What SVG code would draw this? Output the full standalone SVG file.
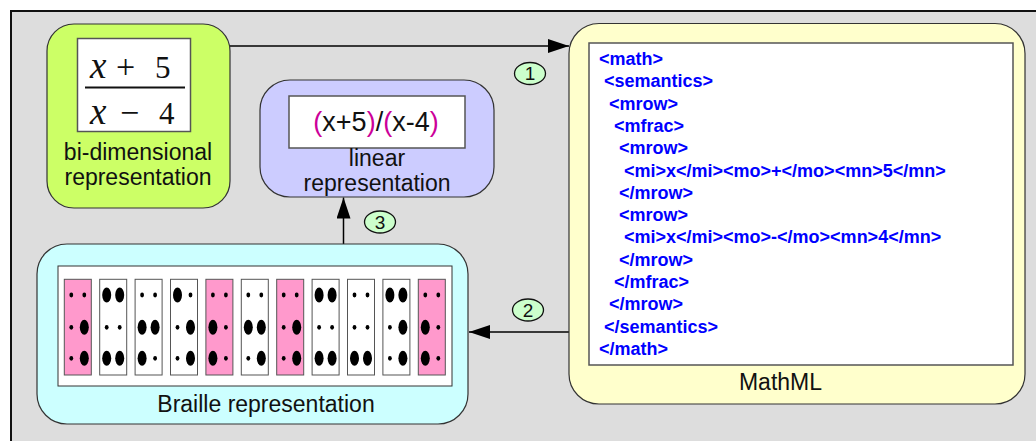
<svg xmlns="http://www.w3.org/2000/svg" xmlns:xlink="http://www.w3.org/1999/xlink" width="1036" height="441" viewBox="0 0 1036 441">
<style>
.node{stroke:#333;stroke-width:1.2}
.wbox{fill:#fff;stroke:#555;stroke-width:1.5}
.lbl{font-family:"Liberation Sans",Arial,sans-serif;font-size:23px;fill:#111;text-anchor:middle}
.ml{font-family:"Liberation Sans",Arial,sans-serif;font-size:18px;font-weight:bold;fill:#0000ff}
.serif{font-family:"Liberation Serif","Times New Roman",serif;fill:#111}
.cell{fill:#fff;stroke:#555;stroke-width:1}
.pink{fill:#ff99cc}
.conn{stroke:#000;stroke-width:1.5;fill:none}
.step{fill:#ccffcc;stroke:#111;stroke-width:1.3}
.stept{font-family:"Liberation Sans",Arial,sans-serif;fill:#111;text-anchor:middle}
.mag{fill:#cc0099}
.b{fill:#000}
.s{fill:#000}
</style>
<defs>
<marker id="ah" markerUnits="userSpaceOnUse" markerWidth="22" markerHeight="14" refX="21" refY="7" orient="auto">
<path d="M0,0 L21,7 L0,14 z" fill="#000"/>
</marker>
</defs>

<rect x="11" y="11" width="1040" height="440" fill="#dddddd" stroke="#111" stroke-width="2"/>

<g id="connectors">
<line class="conn" x1="230" y1="46" x2="569" y2="46" marker-end="url(#ah)"/>
<line class="conn" x1="569" y1="332" x2="469" y2="332" marker-end="url(#ah)"/>
<line class="conn" x1="343.5" y1="244" x2="343.5" y2="197.5" marker-end="url(#ah)"/>
<ellipse class="step" cx="530" cy="73.5" rx="15.5" ry="11"/>
<text class="stept" x="530" y="80" font-size="19">1</text>
<ellipse class="step" cx="528" cy="310" rx="15.5" ry="11"/>
<text class="stept" x="528" y="316.5" font-size="19">2</text>
<ellipse class="step" cx="380" cy="222" rx="15.5" ry="11"/>
<text class="stept" x="380" y="228.5" font-size="19">3</text>
</g>

<g id="bidim">
<rect class="node" x="47" y="24" width="183" height="184" rx="27" fill="#ccff66"/>
<rect class="wbox" x="77.5" y="38.5" width="113" height="93"/>
<text class="serif" x="90" y="77.5" font-size="37" font-style="italic">x</text>
<text class="serif" x="116" y="77.5" font-size="34">+</text>
<text class="serif" x="155" y="78" font-size="31">5</text>
<line x1="85" y1="87.5" x2="185" y2="87.5" stroke="#111" stroke-width="2"/>
<text class="serif" x="90" y="123.5" font-size="37" font-style="italic">x</text>
<text class="serif" x="120" y="123.5" font-size="34">−</text>
<text class="serif" x="159" y="124" font-size="31">4</text>
<text class="lbl" x="138" y="160">bi-dimensional</text>
<text class="lbl" x="138" y="185">representation</text>
</g>

<g id="linear">
<rect class="node" x="260" y="80" width="234" height="117" rx="30" fill="#ccccff"/>
<rect class="wbox" x="289" y="96" width="176" height="52"/>
<text x="376" y="131" font-family="'Liberation Sans',Arial,sans-serif" font-size="27" fill="#111" text-anchor="middle"><tspan class="mag">(</tspan>x+5<tspan class="mag">)</tspan>/<tspan class="mag">(</tspan>x-4<tspan class="mag">)</tspan></text>
<text class="lbl" x="377" y="166">linear</text>
<text class="lbl" x="377" y="191">representation</text>
</g>

<g id="mathml">
<rect class="node" x="569" y="23.5" width="456" height="380.5" rx="30" fill="#ffffcc"/>
<rect class="wbox" x="589" y="43" width="424" height="322"/>
<text class="ml" x="599" y="65">&lt;math&gt;</text>
<text class="ml" x="604" y="87.3">&lt;semantics&gt;</text>
<text class="ml" x="609" y="109.6">&lt;mrow&gt;</text>
<text class="ml" x="614" y="131.9">&lt;mfrac&gt;</text>
<text class="ml" x="619" y="154.2">&lt;mrow&gt;</text>
<text class="ml" x="624" y="176.5">&lt;mi&gt;x&lt;/mi&gt;&lt;mo&gt;+&lt;/mo&gt;&lt;mn&gt;5&lt;/mn&gt;</text>
<text class="ml" x="619" y="198.8">&lt;/mrow&gt;</text>
<text class="ml" x="619" y="221.1">&lt;mrow&gt;</text>
<text class="ml" x="624" y="243.4">&lt;mi&gt;x&lt;/mi&gt;&lt;mo&gt;-&lt;/mo&gt;&lt;mn&gt;4&lt;/mn&gt;</text>
<text class="ml" x="619" y="265.7">&lt;/mrow&gt;</text>
<text class="ml" x="614" y="288">&lt;/mfrac&gt;</text>
<text class="ml" x="609" y="310.3">&lt;/mrow&gt;</text>
<text class="ml" x="604" y="332.6">&lt;/semantics&gt;</text>
<text class="ml" x="599" y="354.9">&lt;/math&gt;</text>
<text class="lbl" x="780.5" y="390">MathML</text>
</g>

<g id="braille">
<rect class="node" x="37" y="244" width="431" height="180" rx="30" fill="#ccffff"/>
<rect x="58" y="266" width="394" height="120" fill="#fff" stroke="#333" stroke-width="1"/>
<g transform="translate(64.3,279.3)"><rect class="cell pink" width="27" height="95.7"/>
<ellipse class="s" cx="7" cy="15.7" rx="1.9" ry="2.4"/><ellipse class="s" cx="20" cy="15.7" rx="1.9" ry="2.4"/><ellipse class="s" cx="7" cy="48" rx="1.9" ry="2.4"/><ellipse class="b" cx="20" cy="48" rx="4.5" ry="7.5"/><ellipse class="s" cx="7" cy="79" rx="1.9" ry="2.4"/><ellipse class="b" cx="20" cy="79" rx="4.5" ry="7.5"/></g>
<g transform="translate(99.7,279.3)"><rect class="cell" width="27" height="95.7"/>
<ellipse class="b" cx="7" cy="15.7" rx="4.5" ry="7.5"/><ellipse class="b" cx="20" cy="15.7" rx="4.5" ry="7.5"/><ellipse class="s" cx="7" cy="48" rx="1.9" ry="2.4"/><ellipse class="s" cx="20" cy="48" rx="1.9" ry="2.4"/><ellipse class="b" cx="7" cy="79" rx="4.5" ry="7.5"/><ellipse class="b" cx="20" cy="79" rx="4.5" ry="7.5"/></g>
<g transform="translate(135.1,279.3)"><rect class="cell" width="27" height="95.7"/>
<ellipse class="s" cx="7" cy="15.7" rx="1.9" ry="2.4"/><ellipse class="s" cx="20" cy="15.7" rx="1.9" ry="2.4"/><ellipse class="b" cx="7" cy="48" rx="4.5" ry="7.5"/><ellipse class="b" cx="20" cy="48" rx="4.5" ry="7.5"/><ellipse class="b" cx="7" cy="79" rx="4.5" ry="7.5"/><ellipse class="s" cx="20" cy="79" rx="1.9" ry="2.4"/></g>
<g transform="translate(170.5,279.3)"><rect class="cell" width="27" height="95.7"/>
<ellipse class="b" cx="7" cy="15.7" rx="4.5" ry="7.5"/><ellipse class="s" cx="20" cy="15.7" rx="1.9" ry="2.4"/><ellipse class="s" cx="7" cy="48" rx="1.9" ry="2.4"/><ellipse class="b" cx="20" cy="48" rx="4.5" ry="7.5"/><ellipse class="s" cx="7" cy="79" rx="1.9" ry="2.4"/><ellipse class="b" cx="20" cy="79" rx="4.5" ry="7.5"/></g>
<g transform="translate(205.9,279.3)"><rect class="cell pink" width="27" height="95.7"/>
<ellipse class="s" cx="7" cy="15.7" rx="1.9" ry="2.4"/><ellipse class="s" cx="20" cy="15.7" rx="1.9" ry="2.4"/><ellipse class="b" cx="7" cy="48" rx="4.5" ry="7.5"/><ellipse class="s" cx="20" cy="48" rx="1.9" ry="2.4"/><ellipse class="b" cx="7" cy="79" rx="4.5" ry="7.5"/><ellipse class="s" cx="20" cy="79" rx="1.9" ry="2.4"/></g>
<g transform="translate(241.3,279.3)"><rect class="cell" width="27" height="95.7"/>
<ellipse class="s" cx="7" cy="15.7" rx="1.9" ry="2.4"/><ellipse class="s" cx="20" cy="15.7" rx="1.9" ry="2.4"/><ellipse class="b" cx="7" cy="48" rx="4.5" ry="7.5"/><ellipse class="b" cx="20" cy="48" rx="4.5" ry="7.5"/><ellipse class="s" cx="7" cy="79" rx="1.9" ry="2.4"/><ellipse class="b" cx="20" cy="79" rx="4.5" ry="7.5"/></g>
<g transform="translate(276.7,279.3)"><rect class="cell pink" width="27" height="95.7"/>
<ellipse class="s" cx="7" cy="15.7" rx="1.9" ry="2.4"/><ellipse class="s" cx="20" cy="15.7" rx="1.9" ry="2.4"/><ellipse class="s" cx="7" cy="48" rx="1.9" ry="2.4"/><ellipse class="b" cx="20" cy="48" rx="4.5" ry="7.5"/><ellipse class="s" cx="7" cy="79" rx="1.9" ry="2.4"/><ellipse class="b" cx="20" cy="79" rx="4.5" ry="7.5"/></g>
<g transform="translate(312.1,279.3)"><rect class="cell" width="27" height="95.7"/>
<ellipse class="b" cx="7" cy="15.7" rx="4.5" ry="7.5"/><ellipse class="b" cx="20" cy="15.7" rx="4.5" ry="7.5"/><ellipse class="s" cx="7" cy="48" rx="1.9" ry="2.4"/><ellipse class="s" cx="20" cy="48" rx="1.9" ry="2.4"/><ellipse class="b" cx="7" cy="79" rx="4.5" ry="7.5"/><ellipse class="b" cx="20" cy="79" rx="4.5" ry="7.5"/></g>
<g transform="translate(347.5,279.3)"><rect class="cell" width="27" height="95.7"/>
<ellipse class="s" cx="7" cy="15.7" rx="1.9" ry="2.4"/><ellipse class="s" cx="20" cy="15.7" rx="1.9" ry="2.4"/><ellipse class="s" cx="7" cy="48" rx="1.9" ry="2.4"/><ellipse class="s" cx="20" cy="48" rx="1.9" ry="2.4"/><ellipse class="b" cx="7" cy="79" rx="4.5" ry="7.5"/><ellipse class="b" cx="20" cy="79" rx="4.5" ry="7.5"/></g>
<g transform="translate(382.9,279.3)"><rect class="cell" width="27" height="95.7"/>
<ellipse class="b" cx="7" cy="15.7" rx="4.5" ry="7.5"/><ellipse class="b" cx="20" cy="15.7" rx="4.5" ry="7.5"/><ellipse class="s" cx="7" cy="48" rx="1.9" ry="2.4"/><ellipse class="b" cx="20" cy="48" rx="4.5" ry="7.5"/><ellipse class="s" cx="7" cy="79" rx="1.9" ry="2.4"/><ellipse class="b" cx="20" cy="79" rx="4.5" ry="7.5"/></g>
<g transform="translate(418.3,279.3)"><rect class="cell pink" width="27" height="95.7"/>
<ellipse class="s" cx="7" cy="15.7" rx="1.9" ry="2.4"/><ellipse class="s" cx="20" cy="15.7" rx="1.9" ry="2.4"/><ellipse class="b" cx="7" cy="48" rx="4.5" ry="7.5"/><ellipse class="s" cx="20" cy="48" rx="1.9" ry="2.4"/><ellipse class="b" cx="7" cy="79" rx="4.5" ry="7.5"/><ellipse class="s" cx="20" cy="79" rx="1.9" ry="2.4"/></g>
<text class="lbl" x="266" y="412">Braille representation</text>
</g>
</svg>
